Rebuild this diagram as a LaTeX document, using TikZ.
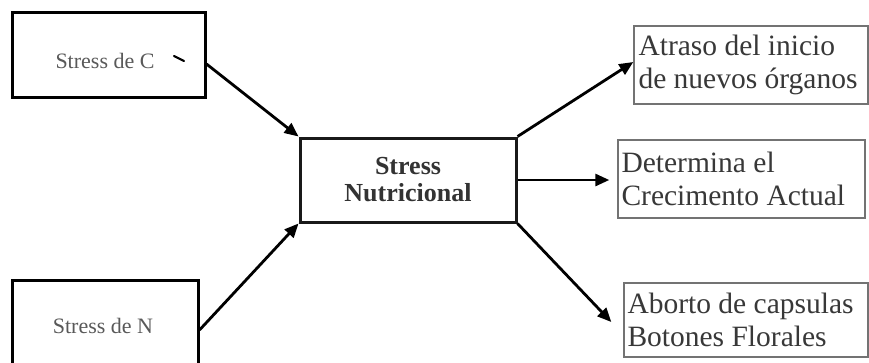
\documentclass[tikz,border=0pt]{standalone}
\usepackage{fontspec}
\setmainfont{Liberation Serif}
\usetikzlibrary{arrows.meta}
\begin{document}
\begin{tikzpicture}[x=1pt,y=-1pt,
  leftbox/.style={draw=black, line width=3pt, minimum width=#1, inner sep=0pt},
  lefttext/.style={font=\fontsize{22}{24}\selectfont, text=black!65, inner sep=0pt},
  midbox/.style={draw=black!90, line width=3pt, minimum width=216pt, minimum height=84pt, inner sep=0pt, font=\fontsize{26}{27}\selectfont\bfseries, text=black!80, align=center},
  rightbox/.style={draw=black!55, line width=1.4pt, inner sep=0pt},
  righttext/.style={anchor=west, inner sep=0pt, align=left, text=black!78, font=\fontsize{29.5}{33}\selectfont},
  arr/.style={line width=2.8pt, -{Triangle[length=14pt,width=12pt]}}
]
\clip (0,0) rectangle (869,362);
\fill[white] (0,0) rectangle (869,362);

\node[leftbox=193pt, minimum height=85pt] (c) at (108.5,54.5) {};
\node[lefttext] (ct) at (105,61) {Stress de C};
\node[leftbox=186pt, minimum height=92pt] (n) at (105,326) {};
\node[lefttext] (nt) at (103,326) {Stress de N};
\node[midbox] (m) at (408,180) {Stress\\Nutricional};

\node[rightbox, minimum width=234pt, minimum height=78pt] (a) at (751,65) {};
\node[righttext] (at) at ([xshift=5pt]a.west) {Atraso del inicio\\de nuevos órganos};
\node[rightbox, minimum width=247pt, minimum height=78pt] (d) at (741.5,179) {};
\node[righttext] (dt) at ([xshift=4pt]d.west) {Determina el\\Crecimento Actual};
\node[rightbox, minimum width=244pt, minimum height=74pt] (b) at (746,320) {};
\node[righttext] (bt) at ([xshift=4pt]b.west) {Aborto de capsulas\\Botones Florales};

\coordinate (tick1) at (174,56);
\coordinate (tick2) at (184,61);
\draw[line width=2.2pt, line cap=round] (tick1) -- (tick2);

\draw[arr] ([yshift=-9.5pt]c.east) -- (m.north west);
\draw[arr] ([yshift=-4pt]n.east) -- (m.south west);
\draw[arr] (m.north east) -- ([yshift=3pt]a.west);
\draw[arr] (m.east) -- ([xshift=-8pt]m.east -| d.west);
\draw[arr] (m.south east) -- ([xshift=-12pt,yshift=-2pt]b.west);
\end{tikzpicture}
\end{document}
